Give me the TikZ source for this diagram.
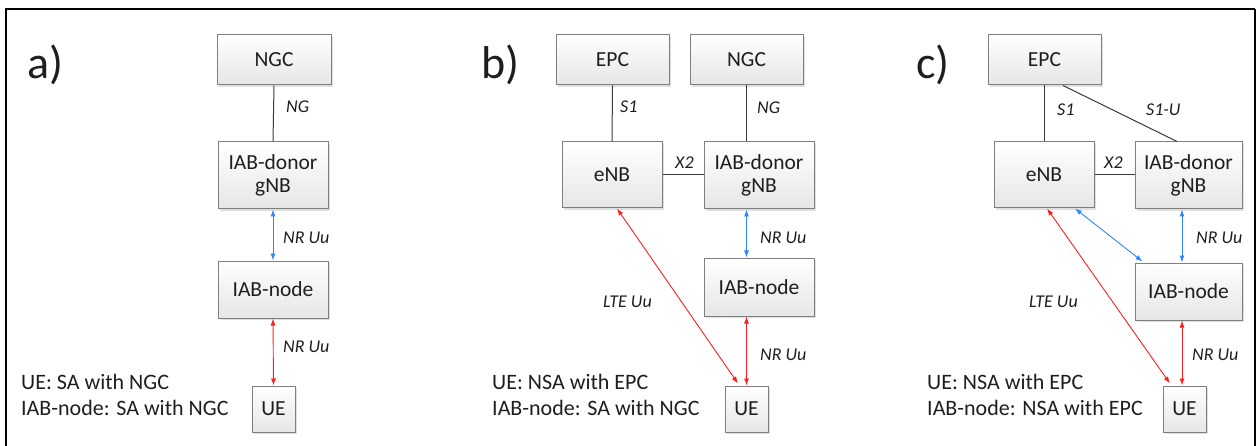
\documentclass[tikz,border=0pt]{standalone}
\usepackage{fontspec}
\setmainfont{Carlito}
\usetikzlibrary{arrows.meta,positioning,calc,shadows}
\definecolor{BoxLine}{HTML}{7F7F7F}
\definecolor{BoxTop}{HTML}{FFFFFF}
\definecolor{BoxBottom}{HTML}{E6E6E6}
\definecolor{Ink}{HTML}{1E1E1E}
\definecolor{Wire}{HTML}{3A3A3A}
\definecolor{LinkBlue}{HTML}{2E86FF}
\definecolor{LinkRed}{HTML}{FF1E1E}
\begin{document}
\begin{tikzpicture}[x=1pt,y=-1pt,text=Ink,box/.style={draw=BoxLine,line width=1pt,top color=BoxTop,bottom color=BoxBottom,drop shadow={shadow xshift=2pt,shadow yshift=-2pt,opacity=0.25},align=center,inner sep=1pt,font=\fontsize{21.5}{23}\selectfont},tag/.style={font=\fontsize{18}{20}\selectfont\itshape,anchor=west,inner sep=0pt},panel/.style={font=\fontsize{46}{50}\selectfont,anchor=west,inner sep=0pt},note/.style={font=\fontsize{22}{26}\selectfont,align=left,anchor=west,inner sep=0pt},wire/.style={draw=Wire,line width=1pt},uulink/.style={{Latex[length=7pt,width=5pt]}-{Latex[length=7pt,width=5pt]},line width=0.9pt,draw=LinkRed},bhlink/.style={{Latex[length=7pt,width=5pt]}-{Latex[length=7pt,width=5pt]},line width=0.9pt,draw=LinkBlue}]
\useasboundingbox (0,0) rectangle (1257,446);
\draw[line width=2.4pt] (6,447) -- (6,9) -- (1255,9);\draw[line width=1.4pt] (1255,9) -- (1255,447);
% a) standalone
\node[panel] (pa) at (27,65){a)};
\node[box,minimum width=114pt,minimum height=50pt] (NGCa) at (274,60){NGC};
\node[box,minimum width=110pt,minimum height=67pt] (gNBa) at (273,175.5){IAB-donor\\gNB};
\node[box,minimum width=110pt,minimum height=57pt] (IABa) at (273,289.5){IAB-node};
\node[box,minimum width=43pt,minimum height=46pt] (UEa) at (273.5,409){UE};
\draw[wire] (NGCa.south) -- (gNBa.north);\draw[bhlink] (gNBa.south) -- (IABa.north);\draw[uulink] (IABa.south) -- (UEa.north);
\node[tag] (nga) at (286,107){NG};\node[tag] (bha) at (283,238){NR Uu};\node[tag] (uua) at (283,347){NR Uu};
\node[note] (nota) at (21,395){UE: SA with NGC\\IAB-node: SA with NGC};
% b) EN-DC towards the UE
\node[panel] (pb) at (481,65){b)};
\node[box,minimum width=113pt,minimum height=50pt] (EPCb) at (612.5,60){EPC};
\node[box,minimum width=113pt,minimum height=50pt] (NGCb) at (746.5,60){NGC};
\node[box,minimum width=100pt,minimum height=66pt] (eNBb) at (612,175){eNB};
\node[box,minimum width=110pt,minimum height=67pt] (gNBb) at (759,175.5){IAB-donor\\gNB};
\node[box,minimum width=110pt,minimum height=58pt] (IABb) at (759,287){IAB-node};
\node[box,minimum width=43pt,minimum height=46pt] (UEb) at (746.5,409){UE};
\draw[wire] (EPCb.south) -- (eNBb.north);\draw[wire] (NGCb.south) -- (NGCb.south |- gNBb.north);\draw[wire] (eNBb.east) -- (eNBb.east -| gNBb.west);
\draw[bhlink] (gNBb.south -| UEb.north) -- (IABb.north -| UEb.north);\draw[uulink] (IABb.south -| UEb.north) -- (UEb.north);
\draw[uulink] ($(eNBb.south)+(5,0)$) -- ($(UEb.north)+(-8.5,-2)$);
\node[tag] (s1b) at (620,107){S1};\node[tag] (ngb) at (757,108){NG};\node[tag] (x2b) at (675,163){X2};
\node[tag] (bhb) at (760,238){NR Uu};\node[tag] (uub) at (760,355){NR Uu};\node[tag] (lteb) at (603,302){LTE Uu};
\node[note] (notb) at (492,395){UE: NSA with EPC\\IAB-node: SA with NGC};
% c) EN-DC towards the UE and the IAB-node
\node[panel] (pc) at (916,65){c)};
\node[box,minimum width=113pt,minimum height=50pt] (EPCc) at (1044.5,60){EPC};
\node[box,minimum width=100pt,minimum height=66pt] (eNBc) at (1044,175){eNB};
\node[box,minimum width=107pt,minimum height=67pt] (gNBc) at (1188.5,175.5){IAB-donor\\gNB};
\node[box,minimum width=107pt,minimum height=57pt] (IABc) at (1188.5,291.5){IAB-node};
\node[box,minimum width=43pt,minimum height=46pt] (UEc) at (1184.5,409){UE};
\draw[wire] (EPCc.south -| eNBc.north) -- (eNBc.north);\draw[wire] ($(EPCc.south)+(18.5,0)$) -- ($(gNBc.north)+(-11.5,0)$);\draw[wire] (eNBc.east) -- (eNBc.east -| gNBc.west);
\draw[bhlink] ($(gNBc.south)+(-6.5,0)$) -- ($(IABc.north)+(-6.5,0)$);\draw[bhlink] ($(eNBc.south)+(31,0)$) -- ($(IABc.north west)+(8,-1)$);
\draw[uulink] ($(IABc.south)+(-6.5,0)$) -- ($(UEc.north)+(-2.5,0)$);\draw[uulink] ($(eNBc.south)+(3,0)$) -- ($(UEc.north)+(-14.5,-2)$);
\node[tag] (s1c) at (1057,110){S1};\node[tag] (s1uc) at (1146,110){S1-U};\node[tag] (x2c) at (1104,163){X2};
\node[tag] (bhc) at (1196,238){NR Uu};\node[tag] (uuc) at (1192,355){NR Uu};\node[tag] (ltec) at (1029,302){LTE Uu};
\node[note] (notc) at (927,395){UE: NSA with EPC\\IAB-node: NSA with EPC};
\end{tikzpicture}
\end{document}
